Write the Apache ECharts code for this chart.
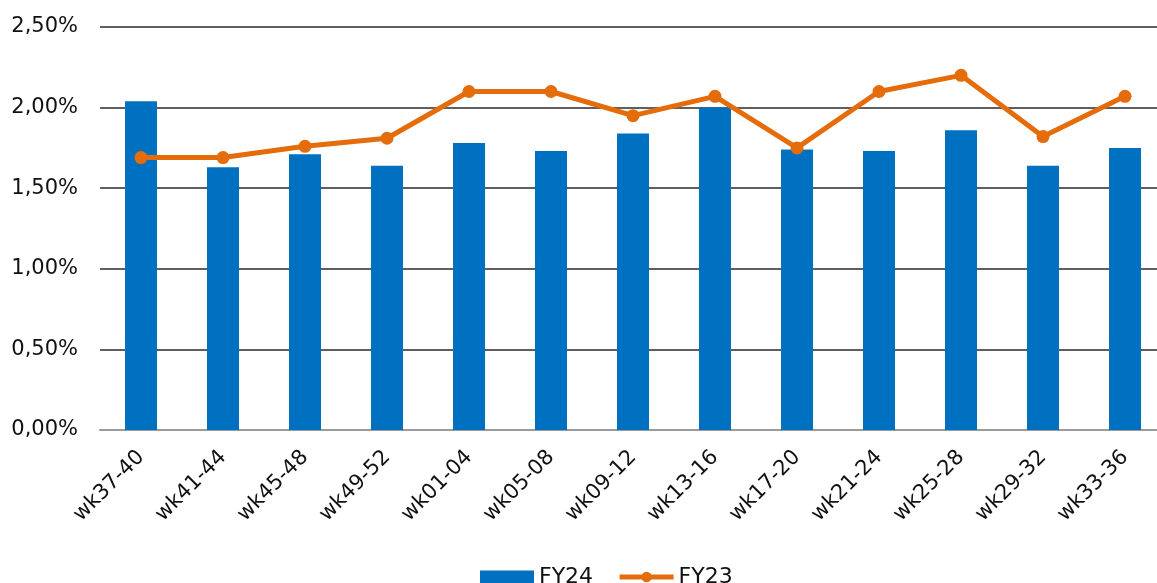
<!DOCTYPE html>
<html>
<head>
<meta charset="utf-8">
<script src="https://cdn.jsdelivr.net/npm/echarts@6/dist/echarts.min.js"></script>
<style>
html, body { margin: 0; padding: 0; background: #fff; }
#chart { width: 1157px; height: 583px; }
</style>
</head>
<body>
<div id="chart"></div>
<script>
// 类目（四周为一期）
var categories = ["wk37-40", "wk41-44", "wk45-48", "wk49-52", "wk01-04", "wk05-08", "wk09-12",
    "wk13-16", "wk17-20", "wk21-24", "wk25-28", "wk29-32", "wk33-36"];
// 数值（%）
var fy24 = [2.04, 1.63, 1.71, 1.64, 1.78, 1.73, 1.84, 2.00, 1.74, 1.73, 1.86, 1.64, 1.75];
var fy23 = [1.69, 1.69, 1.76, 1.81, 2.10, 2.10, 1.95, 2.07, 1.75, 2.10, 2.20, 1.82, 2.07];
var yTicks = [0, 0.5, 1, 1.5, 2, 2.5];

var myChart = echarts.init(document.getElementById("chart"));
var labelFont = "DejaVu Sans";

var option = {
    animation: false,
    grid: {
        left: 100,
        right: -9,
        top: 27,
        bottom: 153,
        containLabel: false,
        outerBoundsMode: "none"
    },
    legend: {
        top: 561,
        left: 475,
        itemGap: 24,
        itemWidth: 54,
        itemHeight: 13,
        textStyle: {
            color: "#111",
            fontSize: 22,
            fontFamily: labelFont
        },
        data: [
            { name: "FY24", icon: "rect" },
            { name: "FY23", lineStyle: { width: 5 } }
        ]
    },
    xAxis: {
        type: "category",
        data: categories,
        axisLine: {
            // 轴
            lineStyle: { color: "#9a9a9a", width: 2 }
        },
        axisTick: {
            // 刻度
            length: 8,
            lineStyle: { color: "#9a9a9a", width: 2 }
        },
        axisLabel: {
            rotate: 45,
            margin: 24,
            color: "#111",
            fontSize: 21,
            fontFamily: labelFont
        },
        splitLine: { show: false }
    },
    yAxis: {
        type: "value",
        min: yTicks[0],
        max: yTicks[yTicks.length - 1],
        interval: 0.5,
        axisLine: { show: false },
        axisTick: { show: false },
        axisLabel: {
            margin: 22,
            color: "#111",
            fontSize: 21,
            fontFamily: labelFont,
            formatter: function (v) {
                return v.toFixed(2).replace(".", ",") + "%";
            }
        },
        splitLine: {
            // 隔线
            show: true,
            lineStyle: { color: "#2a2a2a", width: 1.5 }
        }
    },
    series: [
        {
            name: "FY24",
            type: "bar",
            data: fy24,
            barWidth: "39%",
            itemStyle: { color: "#0070C0" }
        },
        {
            name: "FY23",
            type: "line",
            data: fy23,
            symbol: "circle",
            symbolSize: 13,
            lineStyle: { color: "#E46C0A", width: 5 },
            itemStyle: { color: "#E46C0A" }
        }
    ]
};

myChart.setOption(option);
</script>
</body>
</html>
